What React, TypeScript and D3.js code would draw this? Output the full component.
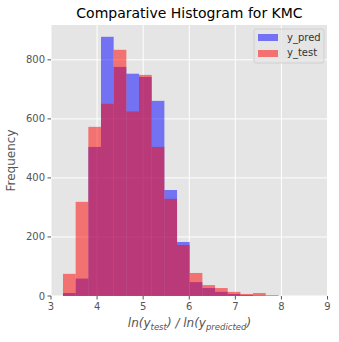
import React from "react";
import * as d3 from "d3";

// shared bin edges for both histograms
const binEdges = [3.26, 3.535, 3.81, 4.085, 4.36, 4.635, 4.91, 5.185, 5.46, 5.735, 6.01, 6.285, 6.56, 6.835, 7.11, 7.385, 7.66, 7.935];
const predCounts = [10, 59, 505, 878, 776, 753, 742, 661, 359, 183, 47, 27, 14, 7, 3, 1, 0];
const testCounts = [75, 319, 573, 651, 834, 625, 749, 505, 329, 173, 78, 37, 27, 14, 7, 10, 3];
const xTicks = [3, 4, 5, 6, 7, 8, 9];
const yTicks = [0, 200, 400, 600, 800];

const W = 339;
const H = 342;
const font = "DejaVu Sans, sans-serif";

export default function App() {
  const left = 51, right = 328, top = 25, bottom = 296;
  const x = d3.scaleLinear().domain([3, 9]).range([left, 327.5]);
  const y = d3.scaleLinear().domain([0, 918]).range([bottom, top]);

  const bars = (counts: number[], color: string) =>
    counts.map((c, i) => (
      <rect
        key={i}
        x={x(binEdges[i])}
        y={y(c)}
        width={x(binEdges[i + 1]) - x(binEdges[i])}
        height={bottom - y(c)}
        fill={color}
        fillOpacity={0.5}
      />
    ));

  return (
    <svg width={W} height={H} style={{ position: "absolute", left: 0, top: 0 }}>
      <rect x={0} y={0} width={W} height={H} fill="#fff" />
      <rect x={left} y={top} width={right - left} height={bottom - top} fill="#e5e5e5" />
      {/* grid */}
      {xTicks.map((t) => (
        <line key={"gx" + t} x1={x(t)} x2={x(t)} y1={top} y2={bottom} stroke="#fff" strokeWidth={1} />
      ))}
      {yTicks.map((t) => (
        <line key={"gy" + t} x1={left} x2={right} y1={y(t)} y2={y(t)} stroke="#fff" strokeWidth={1} />
      ))}
      {bars(predCounts, "#0000ff")}
      {bars(testCounts, "#ff0000")}
      {/* ticks */}
      {xTicks.map((t) => (
        <g key={"tx" + t}>
          <line x1={x(t)} x2={x(t)} y1={bottom} y2={bottom + 3.5} stroke="#555" />
          <text x={x(t)} y={bottom + 14} textAnchor="middle" fontSize={10} fill="#555" fontFamily={font}>
            {t}
          </text>
        </g>
      ))}
      {yTicks.map((t) => (
        <g key={"ty" + t}>
          <line x1={left - 3.5} x2={left} y1={y(t)} y2={y(t)} stroke="#555" />
          <text x={left - 6} y={y(t) + 3.5} textAnchor="end" fontSize={10} fill="#555" fontFamily={font}>
            {t}
          </text>
        </g>
      ))}
      {/* title */}
      <text x={(left + right) / 2} y={18} textAnchor="middle" fontSize={14} fill="#000" fontFamily={font}>
        Comparative Histogram for KMC
      </text>
      {/* axis labels */}
      <text
        transform={`translate(15, ${(top + bottom) / 2}) rotate(-90)`}
        textAnchor="middle"
        fontSize={12}
        fill="#555"
        fontFamily={font}
      >
        Frequency
      </text>
      <text x={(left + right) / 2} y={327} textAnchor="middle" fontSize={12} fill="#555" fontFamily={font} fontStyle="italic">
        ln(y<tspan fontSize={8.5} dy={2.5}>test</tspan>
        <tspan dy={-2.5}>) / ln(y</tspan>
        <tspan fontSize={8.5} dy={2.5}>predicted</tspan>
        <tspan dy={-2.5}>)</tspan>
      </text>
      {/* legend */}
      <rect x={254} y={29} width={70} height={34} rx={2} fill="#e5e5e5" fillOpacity={0.8} stroke="#ccc" strokeWidth={0.8} />
      <rect x={258} y={34} width={20} height={7} fill="#0000ff" fillOpacity={0.5} />
      <rect x={258} y={50} width={20} height={7} fill="#ff0000" fillOpacity={0.5} />
      <text x={287} y={41} fontSize={10} fill="#333" fontFamily={font}>y_pred</text>
      <text x={287} y={56} fontSize={10} fill="#333" fontFamily={font}>y_test</text>
    </svg>
  );
}
